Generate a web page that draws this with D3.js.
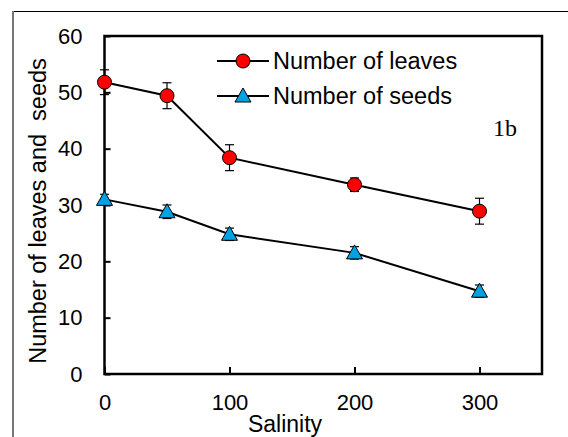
<!DOCTYPE html>
<html lang="en">
<head>
    <meta charset="UTF-8">
    <title>Salinity</title>
    <script src="https://cdn.jsdelivr.net/npm/d3@7"></script>
    <style>
        body{ margin: 0; background: #fff; }
        svg{ display: block; }
    </style>
</head>
<body>
    <svg width="568" height="437" id="mainsvg"></svg>
    <script>
        // data
        const salinity = [0, 50, 100, 200, 300]
        const leaves = [51.8, 49.4, 38.4, 33.6, 28.9]
        const leavesErr = [2.2, 2.3, 2.3, 1.2, 2.3]
        const seeds = [31.0, 28.8, 24.8, 21.5, 14.7]
        const seedsErr = [0.9, 1.2, 1.1, 1.1, 1.1]
        const xTicks = [0, 100, 200, 300]
        const yTicks = [0, 10, 20, 30, 40, 50, 60]

        const svg = d3.select('svg')
        const margin = {top: 36, right: 26, bottom: 63, left: 104.5}
        const width = +svg.attr('width')
        const height = +svg.attr('height')
        const innerWidth = width - margin.left - margin.right
        const innerHeight = height - margin.top - margin.bottom

        // outer frame
        svg.append('line').attr('x1', 13).attr('x2', 568).attr('y1', 11.5).attr('y2', 11.5)
            .attr('stroke', '#000').attr('stroke-width', 1)
        svg.append('line').attr('x1', 13).attr('x2', 13).attr('y1', 11).attr('y2', 437)
            .attr('stroke', '#777').attr('stroke-width', 2)

        const g = svg.append('g').attr('transform', `translate(${margin.left}, ${margin.top})`)

        const x = d3.scaleLinear().domain([0, 350]).range([0, innerWidth])
        const y = d3.scaleLinear().domain([0, 60]).range([innerHeight, 0])

        const font = 'Liberation Sans, Arial, sans-serif'

        const xAxis = d3.axisBottom(x).tickValues(xTicks).tickSizeInner(-7).tickSizeOuter(0).tickPadding(20)
        const yAxis = d3.axisLeft(y).tickValues(yTicks).tickSizeInner(-6).tickSizeOuter(0).tickPadding(22)

        const gx = g.append('g').attr('transform', `translate(0, ${innerHeight})`).call(xAxis)
        const gy = g.append('g').call(yAxis)
        ;[gx, gy].forEach(a => {
            a.select('.domain').remove()
            a.selectAll('line').attr('stroke', '#000').attr('stroke-width', 2)
            a.selectAll('text').attr('font-family', font).attr('font-size', 22).attr('fill', '#000')
        })

        // plot frame
        g.append('rect').attr('width', innerWidth).attr('height', innerHeight)
            .attr('fill', 'none').attr('stroke', '#000').attr('stroke-width', 2.5)

        const line = d3.line().x(d => x(d[0])).y(d => y(d[1]))

        function drawSeries(vals, errs, kind){
            const pts = salinity.map((s, i) => [s, vals[i], errs[i]])
            g.append('path').datum(pts).attr('d', line)
                .attr('fill', 'none').attr('stroke', '#000').attr('stroke-width', 2)
            const eb = g.append('g').selectAll('g').data(pts).join('g')
            eb.append('line').attr('x1', d => x(d[0])).attr('x2', d => x(d[0]))
                .attr('y1', d => y(d[1] - d[2])).attr('y2', d => y(d[1] + d[2]))
                .attr('stroke', '#000').attr('stroke-width', 1.2)
            ;[-1, 1].forEach(s => {
                eb.append('line').attr('x1', d => x(d[0]) - 4.5).attr('x2', d => x(d[0]) + 4.5)
                    .attr('y1', d => y(d[1] + s * d[2])).attr('y2', d => y(d[1] + s * d[2]))
                    .attr('stroke', '#000').attr('stroke-width', 1.2)
            })
            drawMarker(g, pts.map(d => [x(d[0]), y(d[1])]), kind)
        }

        function drawMarker(sel, coords, kind){
            if (kind === 'circle') {
                sel.append('g').selectAll('circle').data(coords).join('circle')
                    .attr('cx', d => d[0]).attr('cy', d => d[1]).attr('r', 7)
                    .attr('fill', '#ff0000').attr('stroke', '#000').attr('stroke-width', 1)
            } else {
                sel.append('g').selectAll('path').data(coords).join('path')
                    .attr('d', d => `M${d[0]},${d[1] - 8}L${d[0] + 8},${d[1] + 6}L${d[0] - 8},${d[1] + 6}Z`)
                    .attr('fill', '#00a2e4').attr('stroke', '#000').attr('stroke-width', 1)
            }
        }

        drawSeries(leaves, leavesErr, 'circle')
        drawSeries(seeds, seedsErr, 'triangle')

        // legend
        const legend = [
            {label: 'Number of leaves', kind: 'circle', y: 61},
            {label: 'Number of seeds', kind: 'triangle', y: 96}
        ]
        legend.forEach(l => {
            svg.append('line').attr('x1', 217).attr('x2', 269).attr('y1', l.y).attr('y2', l.y)
                .attr('stroke', '#000').attr('stroke-width', 2)
            drawMarker(svg, [[243, l.y]], l.kind)
            svg.append('text').attr('x', 273).attr('y', l.y + 8).text(l.label)
                .attr('font-family', font).attr('font-size', 23.5)
        })

        svg.append('text').attr('x', 493).attr('y', 136).text('1b')
            .attr('font-family', 'Liberation Serif, Times New Roman, serif').attr('font-size', 24)

        // axis titles
        svg.append('text').attr('x', 285).attr('y', 432).attr('text-anchor', 'middle')
            .attr('font-family', font).attr('font-size', 23).text('Salinity')
        svg.append('text').attr('transform', 'translate(46, 211) rotate(-90)')
            .attr('text-anchor', 'middle').attr('font-family', font).attr('font-size', 23.5)
            .style('white-space', 'pre').text('Number of leaves and  seeds')
    </script>
</body>
</html>
